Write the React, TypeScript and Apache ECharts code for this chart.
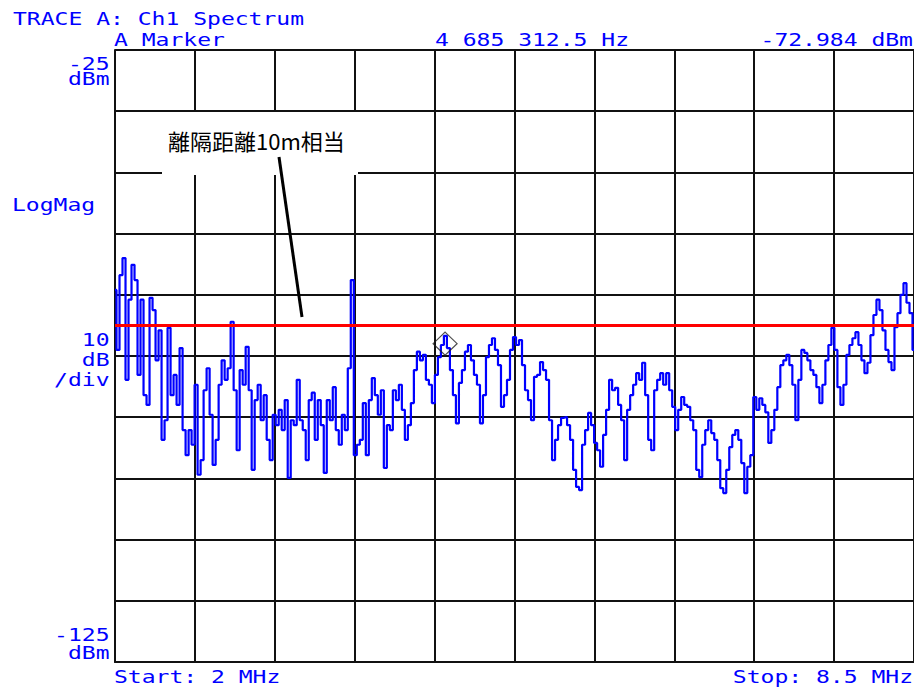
import React, { useEffect, useRef } from "react";
import * as echarts from "echarts";

// ---- sweep / scale settings ----
const START_MHZ = 2;
const STOP_MHZ = 8.5;
const REF_TOP_DBM = -25;
const REF_BOTTOM_DBM = -125;
const DIVISIONS = 10;
const THRESHOLD_DBM = -70;
const MARKER_MHZ = 4.6853125;
const MARKER_DBM = -72.984;

// ---- trace values (dBm), evenly spaced over the sweep ----
const TRACE_A = [
  -64.2, -74.0, -61.8, -59.0, -78.9, -65.8, -60.1, -62.6, -78.1, -65.8,
  -81.4, -83.0, -65.5, -67.5, -75.7, -70.8, -88.7, -85.5, -70.4, -81.4,
  -78.1, -83.0, -73.7, -87.1, -91.2, -87.1, -89.5, -79.7, -94.4, -92.0,
  -80.6, -77.0, -84.6, -92.8, -88.7, -79.7, -75.7, -78.9, -77.0, -69.4,
  -80.6, -90.4, -77.3, -79.7, -73.5, -80.6, -93.6, -82.2, -79.7, -85.5,
  -81.4, -88.7, -92.0, -84.6, -86.3, -83.8, -87.1, -82.2, -94.9, -85.5,
  -86.3, -78.9, -85.5, -87.1, -92.0, -82.2, -81.0, -88.7, -82.2, -86.3,
  -94.1, -82.2, -85.5, -80.1, -87.1, -89.5, -84.6, -87.1, -77.0, -62.6,
  -91.2,
];
const TRACE_B = [
  -89.5, -88.7, -82.7, -91.2, -82.2, -78.6, -81.4, -84.6, -80.6, -93.3,
  -86.3, -87.1, -80.6, -82.2, -79.7, -83.8, -88.7, -86.3, -82.7, -77.3,
  -74.3, -75.7, -74.8, -78.9, -79.7, -82.7, -78.1, -75.2, -73.2, -71.7,
  -73.7, -77.3, -81.4, -86.0, -79.4, -77.3, -74.3, -73.2, -75.7, -78.1,
  -79.7, -86.0, -81.4, -75.2, -73.2, -72.1, -74.0, -76.5, -83.3, -81.4,
  -78.9, -74.0, -71.9,
];
const TRACE_C = [
  -73.2, -72.4, -76.5, -80.6, -82.2, -85.5, -78.4, -78.1, -76.0, -77.3,
  -78.9, -85.5, -92.0, -88.7, -86.3, -85.1, -85.0, -86.3, -88.7, -93.6,
  -96.4, -96.9, -89.5, -87.1, -84.3, -86.3, -89.2, -90.4, -93.1, -87.9,
  -83.8, -78.9, -80.6, -80.2, -83.0, -85.5, -92.0, -83.8, -81.4, -79.7,
  -77.8, -78.9, -76.1, -81.4, -88.7, -90.4, -80.6, -78.9, -77.8, -79.7,
  -77.8, -80.6, -83.3, -87.1, -83.8, -81.7, -83.0, -83.3, -85.5, -87.1,
  -93.6, -94.8, -89.5, -87.1, -85.5, -87.6,
];
const TRACE_D = [
  -88.7, -92.0, -96.6, -97.4, -93.6, -89.9, -87.9, -87.1, -88.7, -92.5,
  -97.4, -93.1, -91.2, -81.7, -83.8, -81.9, -83.0, -84.2, -89.2, -87.1,
  -83.8, -80.1, -76.5, -75.7, -74.8, -76.5, -79.7, -85.5, -78.9, -74.0,
  -74.5, -75.7, -77.3, -78.1, -80.1, -82.7, -79.7, -75.7, -73.2, -70.4,
  -74.0, -80.1, -83.0, -79.7, -74.8, -73.2, -72.1, -71.1, -73.2, -75.7,
  -77.8, -76.1, -71.6, -68.3, -65.8, -67.5, -70.8, -74.0, -76.0, -77.3,
  -70.3, -68.0, -65.0, -63.1, -66.3, -68.0, -74.0,
];

// ---- texts ----
const TITLE_TEXT = "TRACE A: Ch1 Spectrum";
const MARKER_LABEL = "A Marker";
const MARKER_FREQ_TEXT = "4 685 312.5 Hz";
const MARKER_LEVEL_TEXT = "-72.984 dBm";
const TOP_LABEL = ["-25", "dBm"];
const SCALE_LABEL = ["10", "dB", "/div"];
const BOTTOM_LABEL = ["-125", "dBm"];
const FORMAT_TEXT = "LogMag";
const START_TEXT = "Start: 2 MHz";
const STOP_TEXT = "Stop: 8.5 MHz";
const NOTE_TEXT = "離隔距離10m相当";

const BLUE = "#0000ff";
const MONO = '"DejaVu Sans Mono", "Liberation Mono", monospace';
const FS = 18;
const SX = 1.28;

function monoText(text: string, x: number, y: number, align: "left" | "right" = "left") {
  return {
    type: "text",
    x,
    y,
    scaleX: SX,
    z: 100,
    style: {
      text,
      fill: BLUE,
      fontFamily: MONO,
      fontSize: FS,
      textAlign: align,
      textVerticalAlign: "middle",
    },
  };
}

export default function App() {
  const ref = useRef<HTMLDivElement>(null);

  useEffect(() => {
    if (!ref.current) return;
    const chart = echarts.init(ref.current, undefined, { renderer: "svg" });

    const trace = [...TRACE_A, ...TRACE_B, ...TRACE_C, ...TRACE_D];
    const n = trace.length;
    const traceData = trace.map((v, i) => [
      START_MHZ + (i * (STOP_MHZ - START_MHZ)) / (n - 1),
      v,
    ]);

    const gridLine = { show: true, lineStyle: { color: "#111", width: 2 } };

    chart.setOption({
      animation: false,
      backgroundColor: "#ffffff",
      grid: { left: 115, top: 50, width: 800, height: 612, containLabel: false },
      xAxis: [
        {
          type: "value",
          min: 0,
          max: DIVISIONS,
          interval: 1,
          axisLine: { show: true, onZero: false, lineStyle: { color: "#111", width: 2 } },
          axisTick: { show: false },
          axisLabel: { show: false },
          splitLine: gridLine,
          silent: true,
        },
        { type: "value", min: START_MHZ, max: STOP_MHZ, show: false },
      ],
      yAxis: [
        {
          type: "value",
          min: 0,
          max: DIVISIONS,
          interval: 1,
          axisLine: { show: true, onZero: false, lineStyle: { color: "#111", width: 2 } },
          axisTick: { show: false },
          axisLabel: { show: false },
          splitLine: gridLine,
          silent: true,
        },
        { type: "value", min: REF_BOTTOM_DBM, max: REF_TOP_DBM, show: false },
      ],
      series: [
        {
          type: "line",
          xAxisIndex: 1,
          yAxisIndex: 1,
          data: traceData,
          showSymbol: false,
          symbol: "none",
          step: "middle",
          lineStyle: { color: BLUE, width: 2.2 },
          z: 3,
          silent: true,
        },
        {
          type: "line",
          xAxisIndex: 1,
          yAxisIndex: 1,
          data: [
            [START_MHZ, THRESHOLD_DBM],
            [STOP_MHZ, THRESHOLD_DBM],
          ],
          showSymbol: false,
          symbol: "none",
          lineStyle: { color: "#ff0000", width: 3 },
          z: 4,
          silent: true,
        },
        {
          type: "scatter",
          xAxisIndex: 1,
          yAxisIndex: 1,
          data: [[MARKER_MHZ, MARKER_DBM]],
          symbol: "diamond",
          symbolSize: [24, 23],
          itemStyle: { color: "rgba(0,0,0,0)", borderColor: "#222", borderWidth: 1.2 },
          z: 5,
          silent: true,
        },
      ],
      graphic: [
        monoText(TITLE_TEXT, 13, 18.5),
        monoText(MARKER_LABEL, 114, 40),
        monoText(MARKER_FREQ_TEXT, 435, 40),
        monoText(MARKER_LEVEL_TEXT, 913, 40, "right"),
        monoText(TOP_LABEL[0], 109.5, 63.5, "right"),
        monoText(TOP_LABEL[1], 109.5, 78.5, "right"),
        monoText(FORMAT_TEXT, 12, 205),
        monoText(SCALE_LABEL[0], 109.5, 340, "right"),
        monoText(SCALE_LABEL[1], 109.5, 360, "right"),
        monoText(SCALE_LABEL[2], 109.5, 380, "right"),
        monoText(BOTTOM_LABEL[0], 109.5, 635, "right"),
        monoText(BOTTOM_LABEL[1], 109.5, 653, "right"),
        monoText(START_TEXT, 114, 677),
        monoText(STOP_TEXT, 913, 677, "right"),
        {
          type: "rect",
          z: 90,
          shape: { x: 162, y: 112, width: 196, height: 63 },
          style: { fill: "#ffffff" },
        },
        {
          type: "text",
          x: 168,
          y: 140,
          z: 100,
          style: {
            text: NOTE_TEXT,
            fill: "#000",
            fontFamily: '"Noto Sans CJK JP", sans-serif',
            fontSize: 22,
            textAlign: "left",
            textVerticalAlign: "middle",
          },
        },
        {
          type: "line",
          z: 100,
          shape: { x1: 279, y1: 157, x2: 302, y2: 317 },
          style: { stroke: "#000", lineWidth: 3 },
        },
      ],
    });

    return () => chart.dispose();
  }, []);

  return (
    <div
      ref={ref}
      style={{ position: "fixed", left: 0, top: 0, width: 914, height: 687, background: "#fff" }}
    />
  );
}
